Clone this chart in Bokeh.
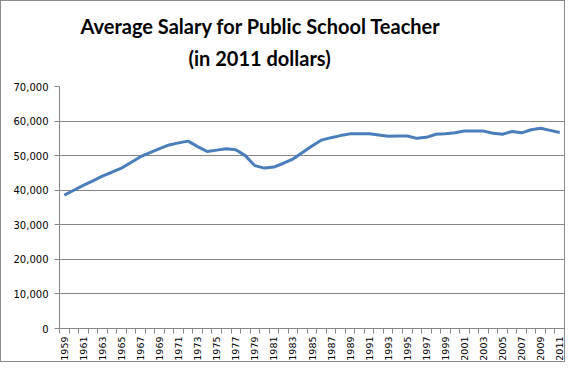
from bokeh.plotting import figure
from bokeh.models import Range1d, FixedTicker, NumeralTickFormatter, Title
from bokeh.embed import file_html
from bokeh.resources import INLINE
import math

years = list(range(1959, 2012))
salary = [38600, 40000, 41400, 42700, 44100, 45200, 46400, 48000, 49700, 50900,
          52000, 53100, 53700, 54200, 52600, 51200, 51600, 52000, 51700, 50000,
          47100, 46400, 46700, 47800, 49000, 50900, 52800, 54500, 55200, 55800,
          56300, 56300, 56300, 56000, 55600, 55700, 55700, 55000, 55300, 56200,
          56300, 56600, 57100, 57100, 57100, 56500, 56200, 57000, 56600, 57500,
          57900, 57300, 56700]
y_ticks = [0, 10000, 20000, 30000, 40000, 50000, 60000, 70000]
x_label_years = years[::2]
title_line1 = "Average Salary for Public School Teacher"
title_line2 = "(in 2011 dollars)"

GRAY = "#868686"

p = figure(width=565, height=362, output_backend="svg", toolbar_location=None,
           x_range=Range1d(years[0] - 0.5, years[-1] + 0.5),
           y_range=Range1d(y_ticks[0], y_ticks[-1]),
           min_border_left=58, min_border_right=2, min_border_bottom=33, min_border_top=85)
p.styles = {"border": "1px solid #8c8c8c"}

p.line(years, salary, line_color="#4A7EBB", line_width=3)

title_style = dict(text_font="Lato", text_font_size="20px", text_font_style="bold",
                   text_color="#000000", align="left")
p.add_layout(Title(text=title_line2, offset=129, standoff=29, vertical_align="top",
                   **title_style), "above")
p.add_layout(Title(text=title_line1, offset=21, standoff=-14, vertical_align="middle",
                   **title_style), "above")

p.outline_line_color = None
p.background_fill_color = "white"
p.border_fill_color = "white"

p.xgrid.grid_line_color = None
p.ygrid.grid_line_color = GRAY
p.ygrid.grid_line_width = 1

p.xaxis.ticker = FixedTicker(ticks=x_label_years,
                             minor_ticks=[y - 0.5 for y in years] + [years[-1] + 0.5])
p.xaxis.major_label_orientation = math.pi / 2
p.xaxis.major_tick_line_color = None
p.xaxis.major_tick_out = 5
p.xaxis.major_tick_in = 0
p.xaxis.minor_tick_line_color = GRAY
p.xaxis.minor_tick_out = 5
p.xaxis.minor_tick_in = 0
p.xaxis.major_label_standoff = 3
p.xaxis.major_label_text_font_size = "9.5px"

p.yaxis.ticker = FixedTicker(ticks=y_ticks)
p.yaxis.formatter = NumeralTickFormatter(format="0,0")
p.yaxis.major_tick_line_color = GRAY
p.yaxis.major_tick_out = 5
p.yaxis.major_tick_in = 0
p.yaxis.minor_tick_line_color = None
p.yaxis.major_label_standoff = 6
p.yaxis.major_label_text_font_size = "10px"

for ax in (p.xaxis, p.yaxis):
    ax.axis_line_color = GRAY
    ax.major_label_text_font = "DejaVu Sans"
    ax.major_label_text_color = "#000000"

open("out.html", "w").write(file_html(p, INLINE))
